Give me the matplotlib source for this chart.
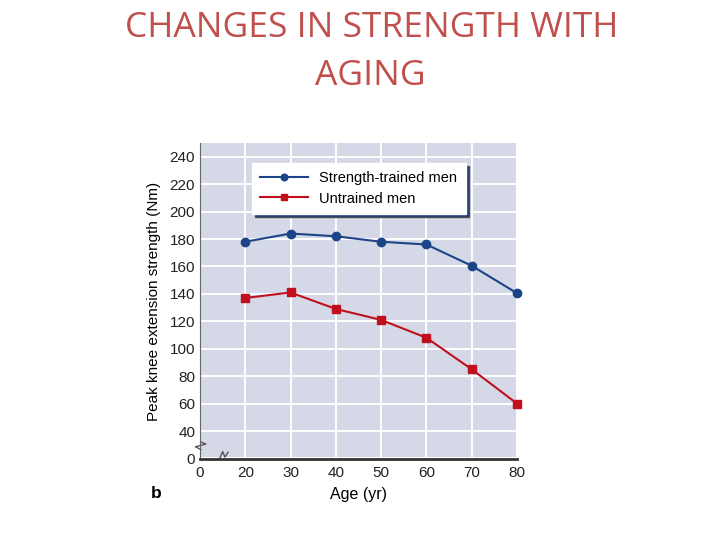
import matplotlib.pyplot as plt

ages = [20, 30, 40, 50, 60, 70, 80]
trained = [178, 184, 182, 178, 176, 160.5, 140.5]
untrained = [137, 141, 129, 121, 108, 85, 60]

x_ticks = [10, 20, 30, 40, 50, 60, 70, 80]
x_labels = ["0", "20", "30", "40", "50", "60", "70", "80"]
y_ticks = [20, 40, 60, 80, 100, 120, 140, 160, 180, 200, 220, 240]
y_labels = ["0", "40", "60", "80", "100", "120", "140", "160", "180", "200", "220", "240"]

blue = "#1d4489"
red = "#c0101e"
plt.rcParams["font.family"] = ["Liberation Sans", "DejaVu Sans"]

fig = plt.figure(figsize=(7.2, 5.4), dpi=100)
# slide title, two lines
fig.text(372/720, 1-37/540, "CHANGES IN STRENGTH WITH", ha="center", va="baseline",
         fontsize=25.5, color="#c0504d", family="Open Sans")
fig.text(370/720, 1-85/540, "AGING", ha="center", va="baseline",
         fontsize=25.5, color="#c0504d", family="Open Sans")

ax = fig.add_axes([200/720, 1-459/540, 317/720, 316/540])
ax.set_facecolor("#d5d8e6")
ax.set_xlim(10, 80)
ax.set_ylim(19.6, 250)
ax.set_xticks(x_ticks)
ax.set_xticklabels(x_labels)
ax.set_yticks(y_ticks)
ax.set_yticklabels(y_labels)
ax.tick_params(length=0, labelsize=11, colors="#222222")
ax.tick_params(axis="y", pad=3.5)
ax.tick_params(axis="x", pad=5)
ax.grid(True, color="white", lw=1.4)
ax.set_axisbelow(True)
for s in ["top", "right"]:
    ax.spines[s].set_visible(False)
ax.spines["left"].set_color("#666666")
ax.spines["bottom"].set_color("#333333")
ax.spines["bottom"].set_linewidth(2)

ax.plot(ages, trained, color=blue, marker="o", ms=6, lw=1.5, clip_on=False,
        label="Strength-trained men")
ax.plot(ages, untrained, color=red, marker="s", ms=6, lw=1.5, clip_on=False,
        label="Untrained men")

leg = ax.legend(loc="upper left", bbox_to_anchor=(0.14, 0.96), fontsize=10.5,
                fancybox=False, framealpha=1, edgecolor="white", markerscale=0.8,
                shadow={"ox": 2.5, "oy": -2.5, "facecolor": "#1f3c7a", "alpha": 1},
                handlelength=3.3, borderpad=0.55, labelspacing=0.45)

# break marks
ax.plot([10.2, 9.0, 11.3, 10.2], [26.5, 28.5, 30.5, 32], color="#555555", lw=1, clip_on=False)
ax.plot([14.3, 15.0, 15.5, 16.2], [19.6, 25, 21, 24.5], color="#555555", lw=1, clip_on=False)

ax.set_ylabel("Peak knee extension strength (Nm)", fontsize=11, labelpad=6)
ax.set_xlabel("Age (yr)", fontsize=11.5, labelpad=5)
fig.text(151/720, 1-493/540, "b", fontsize=12.5, fontweight="bold", va="center")

plt.savefig("out.png", dpi=100)
